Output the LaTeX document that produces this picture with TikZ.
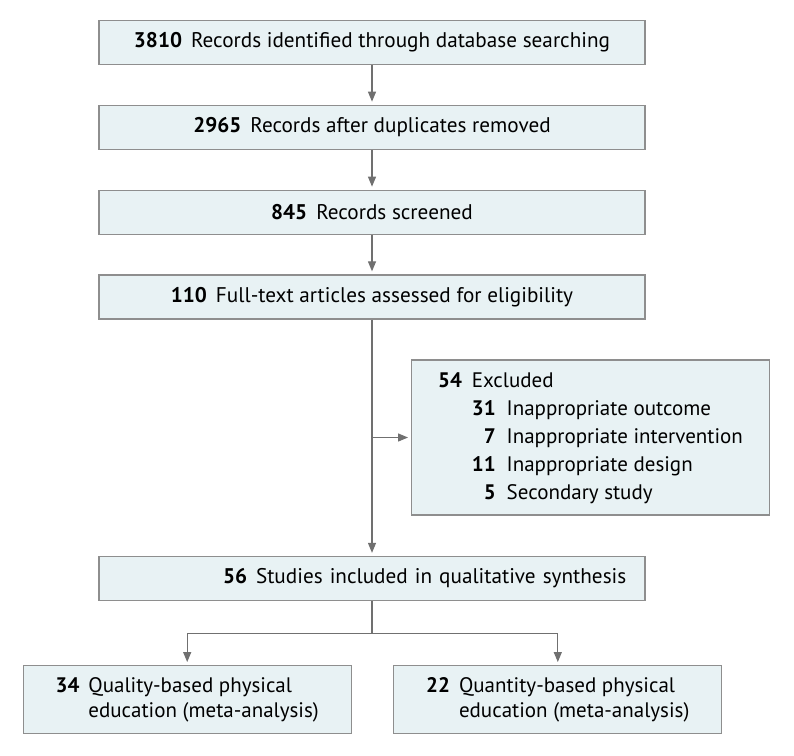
\documentclass[tikz,border=0pt]{standalone}
\usepackage{fontspec}
\setmainfont{PT Sans}
\usetikzlibrary{arrows.meta}

\definecolor{boxfill}{HTML}{E8F2F4}
\definecolor{boxline}{HTML}{8E8E8E}
\definecolor{linkgray}{HTML}{707070}
\newcommand\nbold[1]{\textbf{#1}\hspace{9pt}}

\begin{document}
\begin{tikzpicture}[x=1pt,y=-1pt,
	flowbox/.style={draw=boxline,fill=boxfill,line width=1.3pt,inner sep=0pt,font=\fontsize{21.2}{25}\selectfont},
	mainbox/.style={flowbox,minimum width=546pt,minimum height=44pt},
	endbox/.style={flowbox,minimum width=328pt,minimum height=68pt,font=\fontsize{21}{25}\selectfont},
	link/.style={draw=linkgray,line width=1.2pt},
	flow/.style={link,-{Triangle[length=10pt,width=8pt]},shorten >=3pt}]
	\useasboundingbox (0,0) rectangle (794,755);
	\node[mainbox] (records) at (372,42.5) {\nbold{3810}Records identified through database searching};
	\node[mainbox] (dedup) at (372,127.3) {\nbold{2965}Records after duplicates removed};
	\node[mainbox] (screened) at (372,212.3) {\nbold{845}Records screened};
	\node[mainbox] (fulltext) at (372,297) {\nbold{110}Full-text articles assessed for eligibility};
	\node[flowbox,minimum width=357.6pt,minimum height=155pt,font=\fontsize{21}{28}\selectfont] (excluded) at (590.5,437.5) {%
		\begin{tabular}{@{}r@{\hspace{10pt}}r@{\hspace{11pt}}l@{}}
			\textbf{54} & \multicolumn{2}{@{}l@{}}{Excluded}\\
			& \textbf{31} & Inappropriate outcome\\
			& \textbf{7} & Inappropriate intervention\\
			& \textbf{11} & Inappropriate design\\
			& \textbf{5} & Secondary study
		\end{tabular}};
	\node[mainbox,text width=530pt,align=left] (included) at (372,578.5) {\hspace*{116pt}\nbold{56}Studies included in qualitative synthesis};
	\node[endbox] (quality) at (187.2,699.7) {%
		\begin{tabular}{@{}r@{\hspace{9pt}}l@{}}
			\textbf{34} & Quality-based physical\\
			& education (meta-analysis)
		\end{tabular}};
	\node[endbox] (quantity) at (557.8,699.7) {%
		\begin{tabular}{@{}r@{\hspace{9pt}}l@{}}
			\textbf{22} & Quantity-based physical\\
			& education (meta-analysis)
		\end{tabular}};
	% main column
	\draw[flow] (records) -- (dedup);
	\draw[flow] (dedup) -- (screened);
	\draw[flow] (screened) -- (fulltext);
	\draw[flow] (fulltext) -- (included);
	\draw[flow] (fulltext.south |- excluded.west) -- (excluded.west);
	% split to the two groups
	\draw[link] (included.south) -- ++(0,32) coordinate (split);
	\draw[flow] (split) -| (quality);
	\draw[flow] (split) -| (quantity);
\end{tikzpicture}
\end{document}
